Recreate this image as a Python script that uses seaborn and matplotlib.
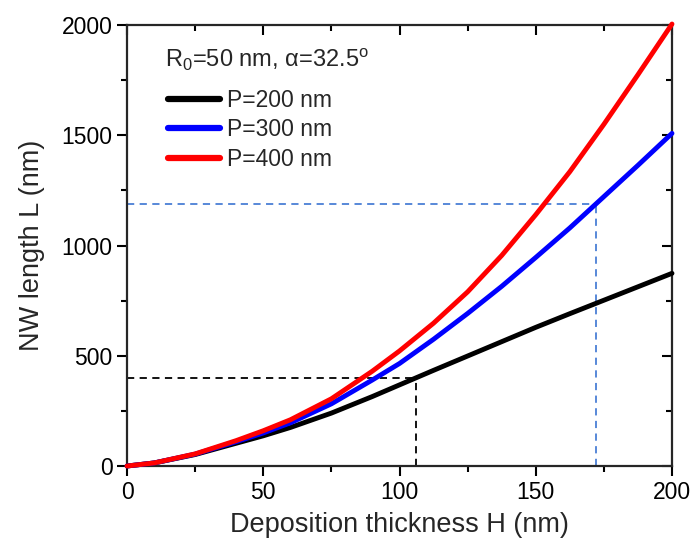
import numpy as np
import pandas as pd
import seaborn as sns
import matplotlib.pyplot as plt
from matplotlib.ticker import MultipleLocator

# Values
H = [0, 10, 25, 40, 50, 60, 75, 90, 100, 112.5, 125, 137.5, 150, 162.5, 175, 187.5, 200]
L_p200 = [0, 14, 52, 103, 137, 175, 240, 315, 368, 434, 499, 564, 629, 691, 752, 813, 874]
L_p300 = [0, 14, 54, 110, 150, 196, 282, 390, 465, 575, 692, 815, 946, 1080, 1222, 1364, 1509]
L_p400 = [0, 14, 55, 115, 160, 210, 305, 430, 522, 648, 790, 955, 1140, 1335, 1550, 1775, 2005]
labels = ['P=200 nm', 'P=300 nm', 'P=400 nm']
colors = ['#000000', '#0000ff', '#ff0000']

guide_black = (106, 400)
guide_blue = (172, 1188)

df = pd.DataFrame({
    'H': H * 3,
    'L': L_p200 + L_p300 + L_p400,
    'P': [labels[0]] * len(H) + [labels[1]] * len(H) + [labels[2]] * len(H),
})

sns.set_style('ticks')
plt.rcParams['font.family'] = ['Liberation Sans', 'DejaVu Sans']
plt.rcParams['mathtext.fontset'] = 'custom'
plt.rcParams['mathtext.rm'] = 'Liberation Sans'
plt.rcParams['mathtext.it'] = 'Liberation Sans:italic'

fig = plt.figure(figsize=(6.96, 5.46), dpi=100)
ax = fig.add_axes([0.1825, 0.1465, 0.783, 0.8075])

# dashed guide lines
gx, gy = guide_black
ax.plot([0, gx], [gy, gy], color='black', ls=(0, (4, 3)), lw=1.3, zorder=1)
ax.plot([gx, gx], [0, gy], color='black', ls=(0, (4, 3)), lw=1.3, zorder=1)
bx, by = guide_blue
ax.plot([0, bx], [by, by], color='#4a7fd6', ls=(0, (4, 3)), lw=1.3, zorder=1)
ax.plot([bx, bx], [0, by], color='#4a7fd6', ls=(0, (4, 3)), lw=1.3, zorder=1)

sns.lineplot(data=df, x='H', y='L', hue='P', palette=colors, lw=3.5, ax=ax, zorder=3)
for line in ax.lines[4:]:
    line.set_clip_on(False)

ax.set_xlim(0, 200)
ax.set_ylim(0, 2000)
ax.xaxis.set_major_locator(MultipleLocator(50))
ax.xaxis.set_minor_locator(MultipleLocator(25))
ax.yaxis.set_major_locator(MultipleLocator(500))
ax.yaxis.set_minor_locator(MultipleLocator(250))

for s in ax.spines.values():
    s.set_linewidth(1.6)
    s.set_visible(True)
ax.tick_params(which='both', width=1.5, labelsize=16.5, direction='out', colors='black')
ax.tick_params(which='major', length=7)
ax.tick_params(which='minor', length=4)
ax.tick_params(which='both', top=True, right=True)
# top/right ticks point inside
for t in ax.xaxis.get_major_ticks() + ax.xaxis.get_minor_ticks():
    t.tick2line.set_marker(3)
for t in ax.yaxis.get_major_ticks() + ax.yaxis.get_minor_ticks():
    t.tick2line.set_marker(0)

ax.set_xlabel('Deposition thickness H (nm)', fontsize=19.5, labelpad=6)
ax.set_ylabel('NW length L (nm)', fontsize=19.5, labelpad=12)

ax.text(0.07, 0.92, r'R$_0$=50 nm, α=32.5$^\mathrm{o}$', transform=ax.transAxes,
        fontsize=17, va='center', ha='left')
leg = ax.legend(loc='upper left', bbox_to_anchor=(0.075, 0.855), frameon=False,
                fontsize=16.5, handlelength=2.27, handletextpad=0.3, labelspacing=0.28,
                borderaxespad=0, borderpad=0)
for line in leg.get_lines():
    line.set_linewidth(4.5)

fig.savefig('out.png', dpi=100)
